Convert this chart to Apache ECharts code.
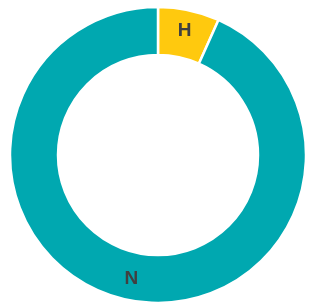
<!DOCTYPE html>
<html>
<head>
<meta charset="utf-8">
<script src="https://cdn.jsdelivr.net/npm/echarts@6/dist/echarts.min.js"></script>
<style>
  html, body { margin: 0; padding: 0; background: #fff; }
  #chart { width: 309px; height: 302px; }
</style>
</head>
<body>
<div id="chart"></div>
<script>
// ---- Data ----
const categories = ["H", "N"];
const shares = [6.7, 93.3];
const sliceColors = ["#FFC90E", "#00A8B0"];

const chart = echarts.init(document.getElementById("chart"), null, { renderer: "canvas" });

chart.setOption({
    animation: false,
    series: [{
        type: "pie",
        center: [158, 155],
        radius: [100, 148],
        startAngle: 90,
        clockwise: true,
        label: {
            show: true,
            position: "inside",
            formatter: "{b}",
            color: "#404040",
            fontFamily: "Liberation Sans, Arial, sans-serif",
            fontWeight: "bold",
            fontSize: 19
        },
        labelLine: { show: false },
        itemStyle: { borderColor: "#fff", borderWidth: 2.5 },
        emphasis: { disabled: true },
        data: categories.map((name, i) => ({
            name,
            value: shares[i],
            itemStyle: { color: sliceColors[i] }
        }))
    }]
});
</script>
</body>
</html>
